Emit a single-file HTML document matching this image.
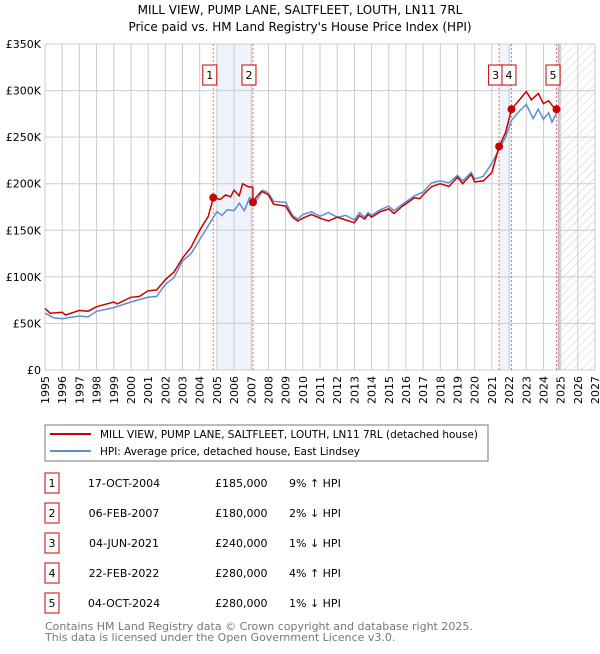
<!DOCTYPE html>
<html><head><meta charset="utf-8"><style>
body{margin:0;background:#fff;font-family:"DejaVu Sans","Liberation Sans",sans-serif;}
svg text{font-family:"DejaVu Sans","Liberation Sans",sans-serif;}
</style></head><body>
<svg id="chart" width="600" height="650" xmlns="http://www.w3.org/2000/svg">
<defs><pattern id="hatch" width="6" height="6" patternUnits="userSpaceOnUse" patternTransform="rotate(45)"><line x1="0" y1="0" x2="0" y2="6" stroke="#ccc" stroke-width="1"/></pattern></defs>
<text x="300" y="14" text-anchor="middle" font-size="12">MILL VIEW, PUMP LANE, SALTFLEET, LOUTH, LN11 7RL</text>
<text x="300" y="31" text-anchor="middle" font-size="12">Price paid vs. HM Land Registry's House Price Index (HPI)</text>
<g id="bg"></g><g id="grid"></g><g id="marks"></g><g id="axes"></g>
<rect x="45" y="425" width="443" height="36" fill="#fff" stroke="#777"/>
<line x1="50" y1="434" x2="91" y2="434" stroke="#cc0000" stroke-width="2"/>
<text x="100" y="438" font-size="11" textLength="378" lengthAdjust="spacingAndGlyphs">MILL VIEW, PUMP LANE, SALTFLEET, LOUTH, LN11 7RL (detached house)</text>
<line x1="50" y1="451" x2="91" y2="451" stroke="#5b8fd4" stroke-width="2"/>
<text x="100" y="455" font-size="11" textLength="260" lengthAdjust="spacingAndGlyphs">HPI: Average price, detached house, East Lindsey</text>
<g id="table"></g>
<text x="45" y="630" font-size="11" fill="#777">Contains HM Land Registry data © Crown copyright and database right 2025.</text>
<text x="45" y="641" font-size="11" fill="#777">This data is licensed under the Open Government Licence v3.0.</text>
</svg>
<script>
const yTicks=[0,50,100,150,200,250,300,350];
const yTickLabels=["£0","£50K","£100K","£150K","£200K","£250K","£300K","£350K"];
const xYears=[1995,1996,1997,1998,1999,2000,2001,2002,2003,2004,2005,2006,2007,2008,2009,2010,2011,2012,2013,2014,2015,2016,2017,2018,2019,2020,2021,2022,2023,2024,2025,2026,2027];
const redT=[1995,1995.3,1996,1996.2,1997,1997.5,1998,1999,1999.2,2000,2000.5,2001,2001.5,2002,2002.5,2003,2003.5,2004,2004.5,2004.79,2005.2,2005.5,2005.8,2006,2006.3,2006.5,2006.8,2007.09,2007.1,2007.3,2007.6,2008,2008.3,2009,2009.4,2009.7,2010,2010.5,2011,2011.5,2012,2012.5,2013,2013.3,2013.6,2013.8,2014,2014.5,2015,2015.3,2015.8,2016.5,2016.8,2017,2017.5,2018,2018.5,2019,2019.3,2019.8,2020,2020.5,2021,2021.42,2021.8,2022.14,2022.6,2023,2023.3,2023.7,2024,2024.3,2024.6,2024.76];
const redV=[66,61,62,59,64,63,68,73,71,78,79,85,86,97,105,120,132,150,165,185,183,188,186,193,187,200,197,196,180,186,192,188,178,176,164,160,163,167,163,160,164,161,158,166,162,167,164,170,173,168,176,185,184,188,197,200,197,207,200,210,202,203,212,240,255,280,290,299,290,297,286,289,282,280];
const hpiT=[1995,1995.5,1996,1997,1997.5,1998,1999,2000,2001,2001.5,2002,2002.5,2003,2003.5,2004,2004.5,2005,2005.3,2005.6,2006,2006.3,2006.6,2006.9,2007.3,2007.7,2008,2008.3,2009,2009.4,2009.7,2010,2010.5,2011,2011.5,2012,2012.5,2013,2013.3,2013.6,2013.8,2014,2014.5,2015,2015.3,2015.8,2016.5,2017,2017.5,2018,2018.5,2019,2019.3,2019.8,2020,2020.5,2021,2021.42,2021.8,2022.14,2022.6,2023,2023.4,2023.7,2024,2024.3,2024.5,2024.76];
const hpiV=[61,56,55,58,57,63,67,73,78,79,92,99,117,125,140,155,170,166,172,171,179,171,185,182,193,190,181,180,166,162,167,170,165,169,164,166,161,169,164,169,166,172,176,171,178,187,191,201,203,201,209,203,212,205,208,222,237,250,268,278,285,270,280,269,276,266,276];
const saleT=[2004.79,2007.1,2021.42,2022.14,2024.76];
const saleV=[185,180,240,280,280];
const saleLabels=["1","2","3","4","5"];
const saleDates=["17-OCT-2004","06-FEB-2007","04-JUN-2021","22-FEB-2022","04-OCT-2024"];
const salePrices=["£185,000","£180,000","£240,000","£280,000","£280,000"];
const saleHpi=["9% ↑ HPI","2% ↓ HPI","1% ↓ HPI","4% ↑ HPI","1% ↓ HPI"];
const X0=45,X1=595,Y0=370,Y1=44;
const x=t=>X0+(t-1995)/(2027-1995)*(X1-X0);
const y=v=>Y0-v/350*(Y0-Y1);
const NS="http://www.w3.org/2000/svg";
function mk(p,tag,at,txt){const e=document.createElementNS(NS,tag);for(const k in at)e.setAttribute(k,at[k]);if(txt!==undefined)e.textContent=txt;document.getElementById(p).appendChild(e);return e;}
let e;
e=mk('bg','rect',{x:x(2005),y:Y1,width:x(2007.1)-x(2005),height:Y0-Y1,fill:'#eef3fc'});

e=mk('bg','rect',{x:x(2021.42),y:Y1,width:x(2022.14)-x(2021.42),height:Y0-Y1,fill:'#eef3fc'});

e=mk('bg','rect',{x:x(2024.76),y:Y1,width:x(2025)-x(2024.76),height:Y0-Y1,fill:'#eef3fc'});

e=mk('bg','rect',{x:x(2025),y:Y1,width:X1-x(2025),height:Y0-Y1,fill:'url(#hatch)'});

xYears.forEach(t=>{e=mk('grid','line',{x1:x(t),x2:x(t),y1:Y1,y2:Y0,stroke:'#ccc','stroke-width':1});

e=mk('axes','text',{transform:`translate(${x(t)+4},${Y0+6}) rotate(-90)`,'text-anchor':'end','font-size':11},String(t));
});
yTicks.forEach((v,i)=>{e=mk('grid','line',{x1:X0,x2:X1,y1:y(v),y2:y(v),stroke:'#ccc','stroke-width':1});

e=mk('axes','text',{x:X0-4,y:y(v)+4,'text-anchor':'end','font-size':11},yTickLabels[i]);
});
e=mk('grid','line',{x1:x(2024.9),x2:x(2024.9),y1:Y1,y2:Y0,stroke:'#999','stroke-width':1});

saleT.forEach((t,i)=>{e=mk('grid','line',{x1:x(t),x2:x(t),y1:Y1,y2:Y0,stroke:'#f07070','stroke-width':1,'stroke-dasharray':'2,2'});
});
const pts=(T,V)=>T.map((t,i)=>x(t).toFixed(1)+','+y(V[i]).toFixed(1)).join(' ');
e=mk('marks','polyline',{points:pts(hpiT,hpiV),fill:'none',stroke:'#5b8fd4','stroke-width':1.5});

e=mk('marks','polyline',{points:pts(redT,redV),fill:'none',stroke:'#cc0000','stroke-width':1.5});

const boxOff=[-3.5,-4,-3.5,-2.5,-3.5];
saleT.forEach((t,i)=>{e=mk('marks','circle',{cx:x(t),cy:y(saleV[i]),r:4,fill:'#cc0000'});

const bx=x(t)+boxOff[i]-7;
e=mk('marks','rect',{x:bx,y:65,width:14,height:20,fill:'#fff',stroke:'#cc0000'});

e=mk('marks','text',{x:bx+7,y:79,'text-anchor':'middle','font-size':11},saleLabels[i]);

const ry=483+i*30;
e=mk('table','rect',{x:45,y:ry-10,width:14,height:20,fill:'#fff',stroke:'#cc0000'});

e=mk('table','text',{x:52,y:ry+4,'text-anchor':'middle','font-size':11},saleLabels[i]);

e=mk('table','text',{x:124,y:ry+4,'text-anchor':'middle','font-size':11},saleDates[i]);

e=mk('table','text',{x:215,y:ry+4,'font-size':11},salePrices[i]);

e=mk('table','text',{x:289,y:ry+4,'font-size':11},saleHpi[i]);
});
</script>
</body></html>
